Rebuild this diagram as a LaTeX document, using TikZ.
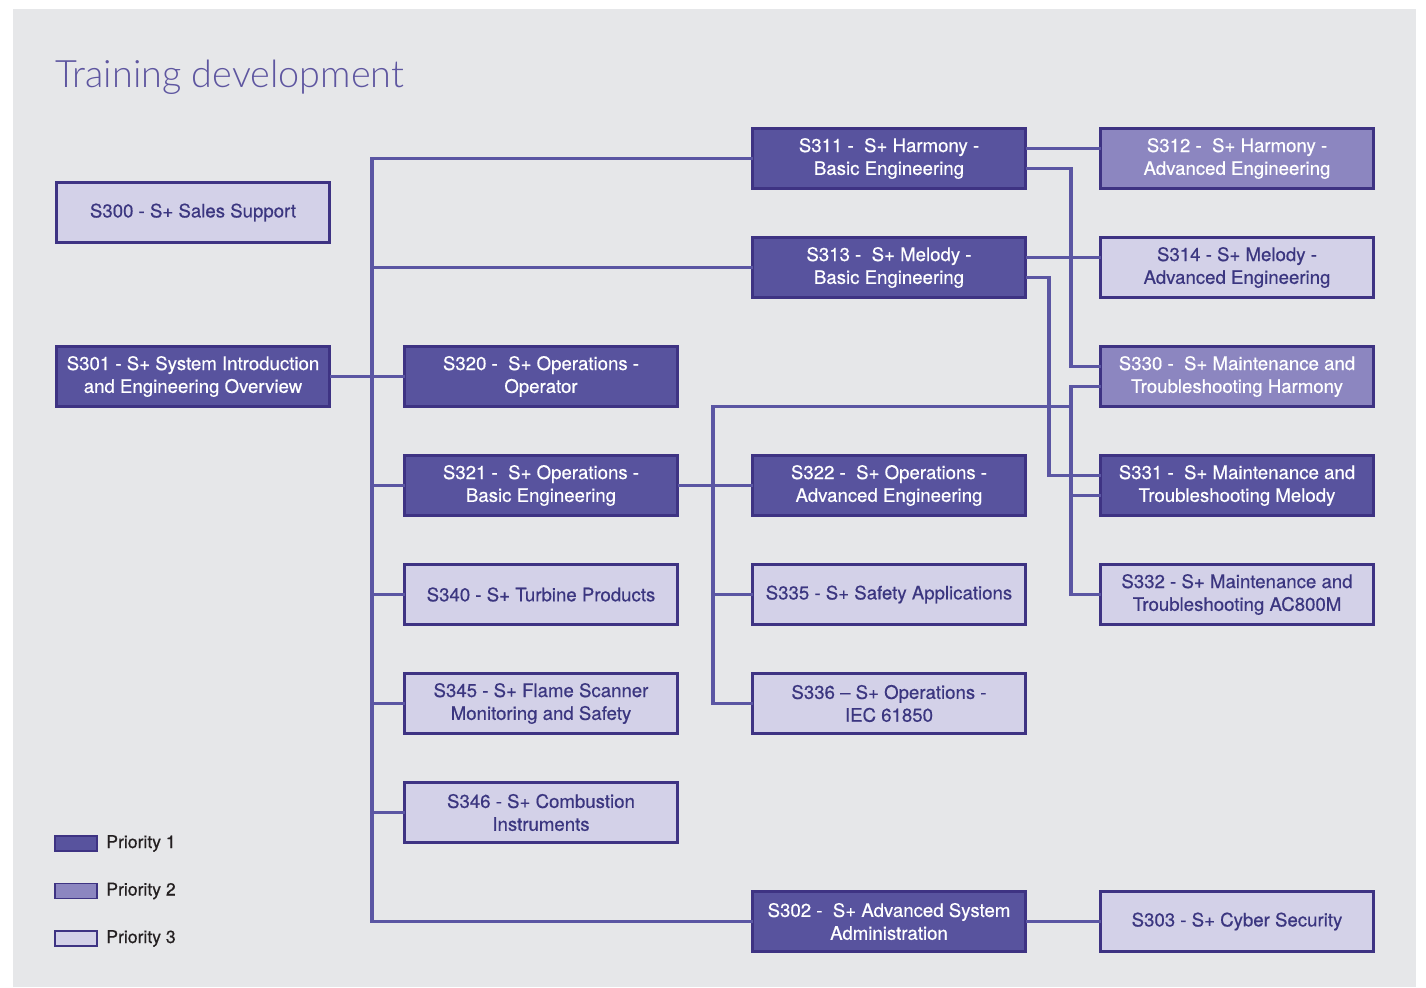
\documentclass[tikz,border=0pt]{standalone}
\usepackage{fontspec}
\setmainfont{TeX Gyre Heros}
\newfontfamily\boxfont{TeX Gyre Heros}[FakeBold=0.5]
\newfontfamily\titlefont{Lato}[UprightFont=* Light]
\usetikzlibrary{positioning}

\definecolor{pagegray}{HTML}{E6E7E9}
\definecolor{fillone}{HTML}{58539E}
\definecolor{filltwo}{HTML}{8C86C0}
\definecolor{fillthree}{HTML}{D3D1E8}
\definecolor{boxedge}{HTML}{3E3383}
\definecolor{linkcol}{HTML}{5B56A3}
\definecolor{titlecol}{HTML}{5E56A0}
\definecolor{darktext}{HTML}{3B3680}
\definecolor{legendtext}{HTML}{231F20}

\begin{document}
\begin{tikzpicture}[
    node distance=0.98cm and 1.5cm,
    course/.style={draw=boxedge, line width=1.6pt, outer sep=0pt, minimum width=5.46cm, minimum height=1.2cm, inner sep=0pt, align=center, font=\boxfont\fontsize{10.6}{13}\selectfont},
    pone/.style={course, fill=fillone, text=white},
    ptwo/.style={course, fill=filltwo, text=white},
    pthree/.style={course, fill=fillthree, text=darktext},
    swatch/.style={draw=boxedge, line width=1pt, outer sep=0pt, minimum width=0.84cm, minimum height=0.3cm, inner sep=0pt},
    link/.style={draw=linkcol, line width=2pt},
    font=\fontsize{10.5}{13}\selectfont
]
% page
\useasboundingbox (0,0) rectangle (28.52,-19.74);
\fill[pagegray] (0.26,-0.18) rectangle (28.32,-19.74);
\node[anchor=base west, inner sep=0pt, text=titlecol, font=\titlefont\fontsize{21.5}{24}\selectfont] (title) at (1.1,-1.74) {Training development};

% column 1 and 2
\node[pone] (s301) at (3.86,-7.53) {S301 - S+ System Introduction\\and Engineering Overview};
\node[pthree, above=2.08cm of s301] (s300) {S300 - S+ Sales Support};
\node[pone, right=of s301] (s320) {S320 -\ \ S+ Operations -\\Operator};
\node[pone, below=of s320] (s321) {S321 -\ \ S+ Operations -\\Basic Engineering};
\node[pthree, below=of s321] (s340) {S340 - S+ Turbine Products};
\node[pthree, below=of s340] (s345) {S345 - S+ Flame Scanner\\Monitoring and Safety};
\node[pthree, below=of s345] (s346) {S346 - S+ Combustion\\Instruments};

% column 3
\node[pone, above right=0.98cm and 1.5cm of s320] (s313) {S313 -\ \ S+ Melody -\\Basic Engineering};
\node[pone, above=of s313] (s311) {S311 -\ \ S+ Harmony -\\Basic Engineering};
\node[pone, right=of s321] (s322) {S322 -\ \ S+ Operations -\\Advanced Engineering};
\node[pthree, right=of s340] (s335) {S335 - S+ Safety Applications};
\node[pthree, right=of s345] (s336) {S336 – S+ Operations -\\IEC 61850};
\node[pone, below right=0.98cm and 1.5cm of s346] (s302) {S302 -\ \ S+ Advanced System\\Administration};

% column 4
\node[ptwo, right=of s311] (s312) {S312 -\ \ S+ Harmony -\\Advanced Engineering};
\node[pthree, right=of s313] (s314) {S314 - S+ Melody -\\Advanced Engineering};
\node[ptwo, below=of s314] (s330) {S330 -\ \ S+ Maintenance and\\Troubleshooting Harmony};
\node[pone, below=of s330] (s331) {S331 -\ \ S+ Maintenance and\\Troubleshooting Melody};
\node[pthree, below=of s331] (s332) {S332 - S+ Maintenance and\\Troubleshooting AC800M};
\node[pthree, right=of s302] (s303) {S303 - S+ Cyber Security};

% bus lines
\coordinate (busA) at (7.44,0);
\coordinate (busB) at (14.26,0);
\coordinate (busC) at (21.42,0);
\coordinate (busD) at (20.98,0);

\draw[link] (s311.west) -- (s311.west -| busA) -- (s302.west -| busA) -- (s302.west);
\draw[link] (s313.west -| busA) -- (s313.west);
\draw[link] (s301) -- (s320);
\foreach \n in {s321,s340,s345,s346}
  \draw[link] (\n.west -| busA) -- (\n.west);

\draw[link] (s321) -- (s322);
\draw[link] (s336.west) -- (s336.west -| busB) -- (busB |- s330.south) -- (busC |- s330.south);
\draw[link] (s335.west -| busB) -- (s335.west);

\draw[link] ([yshift=0.2cm]s311.east) -- ([yshift=0.2cm]s312.west);
\draw[link] ([yshift=-0.2cm]s311.east) -- ([yshift=-0.2cm]s311.east -| busC) -- ([yshift=0.2cm]s330.west -| busC) -- ([yshift=0.2cm]s330.west);
\draw[link] ([yshift=0.2cm]s313.east) -- ([yshift=0.2cm]s314.west);
\draw[link] ([yshift=-0.2cm]s313.east) -- ([yshift=-0.2cm]s313.east -| busD) -- ([yshift=0.2cm]s331.west -| busD) -- ([yshift=0.2cm]s331.west);
\draw[link] ([yshift=-0.2cm]s330.west) -- ([yshift=-0.2cm]s330.west -| busC) -- (s332.west -| busC) -- (s332.west);
\draw[link] ([yshift=-0.2cm]s331.west -| busC) -- ([yshift=-0.2cm]s331.west);
\draw[link] (s302) -- (s303);

% legend
\node[swatch, fill=fillone] (key1) at (1.52,-16.87) {};
\node[swatch, fill=filltwo, below=0.65cm of key1] (key2) {};
\node[swatch, fill=fillthree, below=0.65cm of key2] (key3) {};
\foreach \k/\t in {key1/1,key2/2,key3/3}
  \node[right=0.18cm of \k, inner sep=0pt, text=legendtext, font=\boxfont\fontsize{10}{12}\selectfont] {Priority \t};
\end{tikzpicture}
\end{document}
